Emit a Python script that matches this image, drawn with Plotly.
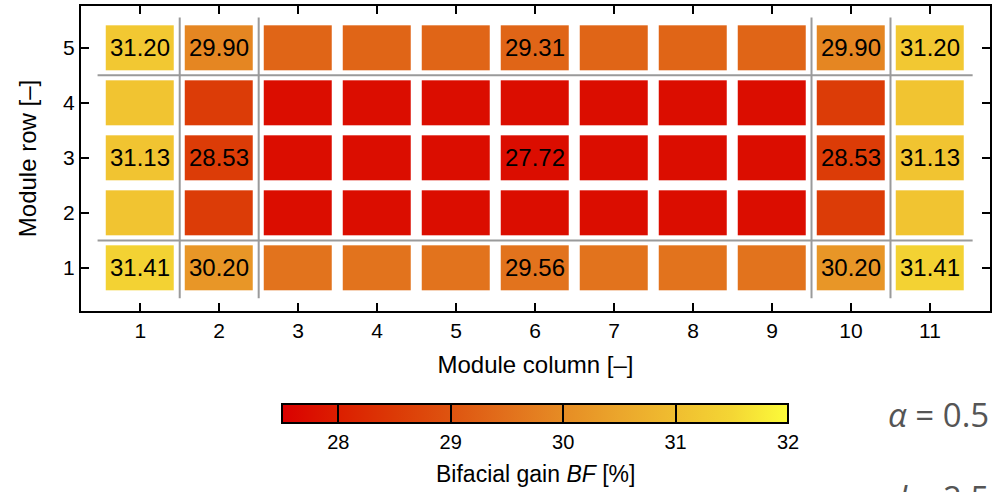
import plotly.graph_objects as go

# ---- data ----
columns = list(range(1, 12))
rows = [1, 2, 3, 4, 5]
row1 = [31.41, 30.20, 29.56, 29.56, 29.56, 29.56, 29.56, 29.56, 29.56, 30.20, 31.41]
row2 = [31.13, 28.53, 27.72, 27.72, 27.72, 27.72, 27.72, 27.72, 27.72, 28.53, 31.13]
row3 = [31.13, 28.53, 27.72, 27.72, 27.72, 27.72, 27.72, 27.72, 27.72, 28.53, 31.13]
row4 = [31.13, 28.53, 27.72, 27.72, 27.72, 27.72, 27.72, 27.72, 27.72, 28.53, 31.13]
row5 = [31.20, 29.90, 29.31, 29.31, 29.31, 29.31, 29.31, 29.31, 29.31, 29.90, 31.20]
z = [row1, row2, row3, row4, row5]
label_cols = [1, 2, 6, 10, 11]
label_rows = [1, 3, 5]
cbar_ticks = [28, 29, 30, 31, 32]
zmin, zmax = 27.5, 32.0

labels = [[(f"{z[ri][ci]:.2f}" if (r in label_rows and c in label_cols) else "")
           for ci, c in enumerate(columns)] for ri, r in enumerate(rows)]

# colour scale (27.5 .. 32)
cs_vals = [27.5, 28.0, 28.5, 29.0, 29.5, 30.0, 30.5, 31.0, 31.5, 32.0]
cs_cols = ["#da0000", "#dc1e00", "#dc3a06", "#de5410", "#e2701c", "#e68c24",
           "#eba62c", "#f0be30", "#f4d634", "#fcfc3a"]
colorscale = [[(v - zmin) / (zmax - zmin), c] for v, c in zip(cs_vals, cs_cols)]

FONT = "Liberation Sans, Arial, sans-serif"

fig = go.Figure()
fig.add_trace(go.Heatmap(
    x=columns, y=rows, z=z, zmin=zmin, zmax=zmax,
    colorscale=colorscale, xgap=11, ygap=10,
    text=labels, texttemplate="%{text}",
    textfont=dict(family=FONT, size=24, color="black"),
    hoverinfo="skip",
    colorbar=dict(
        orientation="h", x=0.4995, xanchor="center", y=-0.305, yanchor="top",
        len=506, lenmode="pixels", thickness=19, xpad=0, ypad=0,
        outlinewidth=2, outlinecolor="black",
        tickvals=cbar_ticks, ticks="inside", ticklen=19, tickwidth=2, tickcolor="black",
        tickfont=dict(family=FONT, size=20, color="black"),
    ),
))

# colour bar title
fig.add_annotation(xref="paper", yref="paper", x=(535 - 81) / 909, y=(311 - 474) / 305,
                   xanchor="center", yanchor="middle", showarrow=False,
                   text="Bifacial gain <i>BF</i> [%]",
                   font=dict(family=FONT, size=23, color="black"))

# separator lines
gray = dict(color="#9a9a9a", width=2)
for xv in [1.5, 2.5, 9.5, 10.5]:
    fig.add_shape(type="line", xref="x", yref="y", x0=xv, x1=xv, y0=0.45, y1=5.55, line=gray)
for yv in [1.5, 4.5]:
    fig.add_shape(type="line", xref="x", yref="y", x0=0.46, x1=11.54, y0=yv, y1=yv, line=gray)

fig.add_annotation(xref="paper", yref="paper", x=(886 - 81) / 909, y=(311 - 414) / 305,
                   xanchor="left", yanchor="middle",
                   text="<i>α</i> = 0.5", showarrow=False,
                   font=dict(family="Open Sans, sans-serif", size=33, color="#555555"))
fig.add_annotation(xref="paper", yref="paper", x=(886 - 81) / 909, y=(311 - 473) / 305,
                   xanchor="left", yanchor="top",
                   text="<i>d</i> = 2.5", showarrow=False,
                   font=dict(family="Open Sans, sans-serif", size=33, color="#555555"))

axis_common = dict(showline=True, linewidth=2, linecolor="black", mirror="ticks",
                   ticks="inside", ticklen=8, tickwidth=2, tickcolor="black",
                   showgrid=False, zeroline=False,
                   tickfont=dict(family=FONT, size=21, color="black"))
fig.update_xaxes(range=[0.25, 11.76], tickvals=columns,
                 title=dict(text="Module column [–]", font=dict(family=FONT, size=24, color="black"), standoff=15),
                 **axis_common)
fig.update_yaxes(range=[0.22, 5.76], tickvals=rows,
                 title=dict(text="Module row [–]", font=dict(family=FONT, size=24, color="black"), standoff=20),
                 **axis_common)
fig.update_layout(width=993, height=492,
                  margin=dict(l=81, r=3, t=6, b=181, autoexpand=False),
                  plot_bgcolor="white", paper_bgcolor="white", showlegend=False)

fig.write_html("out.html", config={"displayModeBar": False},
               post_script="document.body.style.margin='0';document.body.style.overflow='hidden';")
